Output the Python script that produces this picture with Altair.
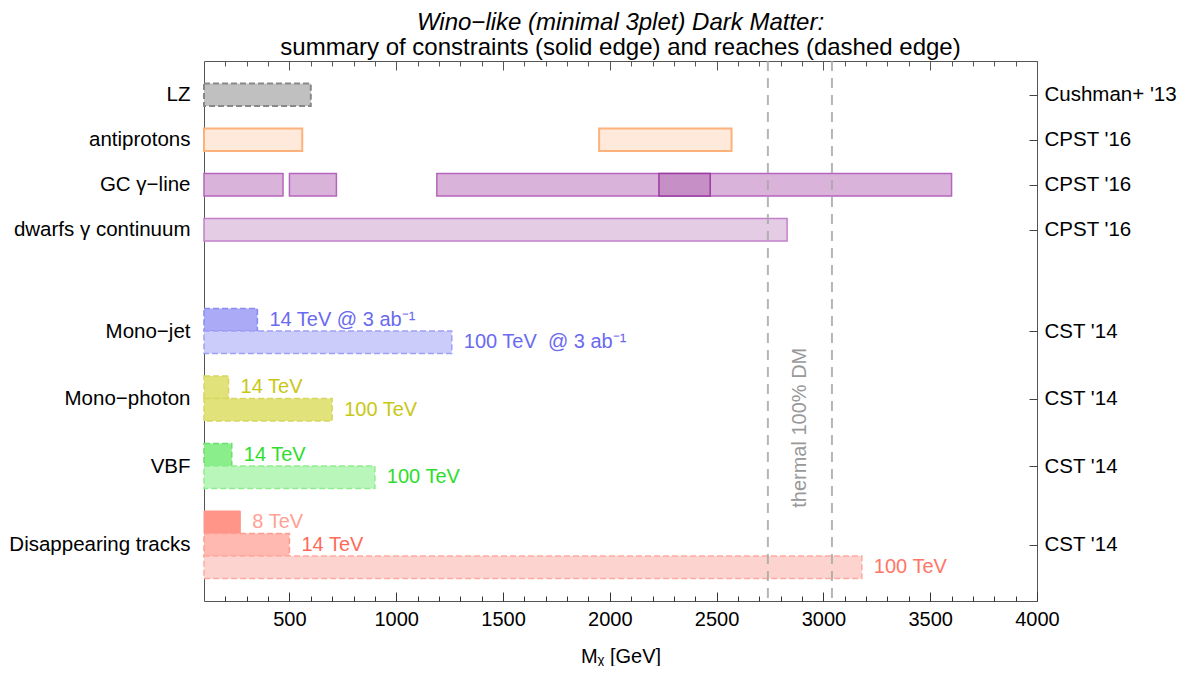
import json
import altair as alt
import pandas as pd

# ---------------- data ----------------
row_labels = ["LZ", "antiprotons", "GC γ−line", "dwarfs γ continuum",
              "Mono−jet", "Mono−photon", "VBF", "Disappearing tracks"]
row_refs = ["Cushman+ '13", "CPST '16", "CPST '16", "CPST '16",
            "CST '14", "CST '14", "CST '14", "CST '14"]
row_pos = [1.5, 3.5, 5.5, 7.5, 12, 15, 18, 21.5]

bar_name = ["LZ", "antiprotons a", "antiprotons b", "GC 1", "GC 2", "GC 3", "GC core",
            "dwarfs", "MJ 14", "MJ 100", "MP 14", "MP 100", "VBF 14", "VBF 100",
            "DT 8", "DT 14", "DT 100"]
bar_lo = [100, 100, 1950, 100, 500, 1190, 2230, 100, 100, 100, 100, 100, 100, 100, 100, 100, 100]
bar_hi = [600, 560, 2570, 470, 720, 3600, 2470, 2830, 350, 1260, 215, 700, 230, 900, 270, 500, 3180]
bar_y0 = [1, 3, 3, 5, 5, 5, 5, 7, 11, 12, 14, 15, 17, 18, 20, 21, 22]
bar_y1 = [2, 4, 4, 6, 6, 6, 6, 8, 12, 13, 15, 16, 18, 19, 21, 22, 23]
bar_dashed = [True, False, False, False, False, False, False, False,
              True, True, True, True, True, True, False, True, True]

# styles
bar_fill = ["#c0c0c0", "#ffe9da", "#ffe9da", "#dab3db", "#dab3db", "#dab3db", "#c690c7",
            "#e4cde4", "#aaaaf7", "#ccccfb", "#e2e27a", "#e2e27a", "#8aee8a", "#b9f6b9",
            "#ff9488", "#ffb9b0", "#fdd3cf"]
bar_edge = ["#888888", "#fdb27b", "#fdb27b", "#b565bd", "#b565bd", "#b565bd", "#9b3ba4",
            "#c47fcb", "#8a8af3", "#a0a0f5", "#d6d662", "#d6d662", "#6ce06c", "#8eee8e",
            "#ff9488", "#ff9d92", "#ffa9a0"]
bar_sw = [2, 2, 2, 1.5, 1.5, 1.5, 1.5, 1.5, 1.5, 1.5, 1.5, 1.5, 1.5, 1.5, 1, 1.5, 1.5]

text_str = ["14 TeV @ 3 ab⁻¹", "100 TeV\u00a0\u00a0@ 3 ab⁻¹", "14 TeV", "100 TeV", "14 TeV", "100 TeV",
            "8 TeV", "14 TeV", "100 TeV"]
text_x = [350, 1260, 215, 700, 230, 900, 270, 500, 3180]
text_y = [11.5, 12.5, 14.5, 15.5, 17.5, 18.5, 20.5, 21.5, 22.5]
text_color = ["#6a6af0", "#6a6af0", "#c8c814", "#c8c814", "#2edd2e", "#2edd2e",
              "#ffa096", "#ff6a5a", "#ff7566"]

thermal = [2740, 3040]
thermal_label = "thermal 100% DM"
thermal_label_y = [16.3]

x_major = [500, 1000, 1500, 2000, 2500, 3000, 3500, 4000]
x_minor = [v for v in range(200, 4000, 100) if v % 500 != 0]
x_domain = [100, 4000]
y_domain = [0, 24]

FONT = "Liberation Sans"

bars = pd.DataFrame({"name": bar_name, "lo": bar_lo, "hi": bar_hi, "y0": bar_y0, "y1": bar_y1,
                     "dashed": bar_dashed, "fill": bar_fill, "edge": bar_edge, "sw": bar_sw})
texts = pd.DataFrame({"t": text_str, "x": text_x, "y": text_y, "c": text_color})
therm = pd.DataFrame({"x": thermal})
therm_lab = pd.DataFrame({"x": [sum(thermal) / 2], "y": thermal_label_y, "t": [thermal_label]})


def expr_map(vals, labs):
    e = '""'
    for v, l in reversed(list(zip(vals, labs))):
        e = f"datum.value == {v} ? {json.dumps(l)} : ({e})"
    return e


xs = alt.Scale(domain=x_domain, nice=False, zero=False)
ys = alt.Scale(domain=y_domain, reverse=True, nice=False, zero=False)

ax_bottom = alt.Axis(orient="bottom", values=x_major, tickSize=9, offset=-9, domain=False, grid=False,
                     labelFontSize=20, labelPadding=8, labelFlush=False, labelOverlap=False,
                     format="d", tickColor="#333333", labelColor="black",
                     title="Mᵪ [GeV]", titleFontSize=20, titleFontWeight="normal",
                     titleColor="black", titlePadding=17)
ax_top = alt.Axis(orient="top", values=x_major, tickSize=9, offset=-9, domain=False, grid=False,
                  labels=False, tickColor="#555555", title=None)
ax_bottom_minor = alt.Axis(orient="bottom", values=x_minor, tickSize=5, offset=-5, domain=False,
                           grid=False, labels=False, tickColor="#333333", title=None)
ax_top_minor = alt.Axis(orient="top", values=x_minor, tickSize=5, offset=-5, domain=False,
                        grid=False, labels=False, tickColor="#555555", title=None)

ax_left = alt.Axis(orient="left", values=row_pos, labelExpr=expr_map(row_pos, row_labels),
                   tickSize=8, offset=-8, domain=False, grid=False, labelFontSize=20.5,
                   labelPadding=14, labelOverlap=False, labelFlush=False, labelLimit=400,
                   tickColor="black", labelColor="black", title=None)
ax_right = alt.Axis(orient="right", values=row_pos, labelExpr=expr_map(row_pos, row_refs),
                    tickSize=8, offset=-8, domain=False, grid=False, labelFontSize=20.5,
                    labelPadding=7, labelOverlap=False, labelFlush=False, labelLimit=400,
                    tickColor="#444444", labelColor="black", title=None)

base_bars = alt.Chart(bars)

solid = base_bars.transform_filter("!datum.dashed").mark_rect().encode(
    x=alt.X("lo:Q", scale=xs, axis=ax_bottom),
    x2="hi:Q",
    y=alt.Y("y0:Q", scale=ys, axis=ax_left),
    y2="y1:Q",
    fill=alt.Fill("fill:N", scale=None),
    stroke=alt.Stroke("edge:N", scale=None),
    strokeWidth=alt.StrokeWidth("sw:Q", scale=None),
)

dashed = base_bars.transform_filter("datum.dashed").mark_rect(strokeDash=[6, 3]).encode(
    x=alt.X("lo:Q", scale=xs, axis=ax_top),
    x2="hi:Q",
    y=alt.Y("y0:Q", scale=ys, axis=ax_right),
    y2="y1:Q",
    fill=alt.Fill("fill:N", scale=None),
    stroke=alt.Stroke("edge:N", scale=None),
    strokeWidth=alt.StrokeWidth("sw:Q", scale=None),
)

rules = alt.Chart(therm).mark_rule(color="#a8a8a8", strokeWidth=2, strokeDash=[10, 7], opacity=0.85).encode(
    x=alt.X("x:Q", scale=xs, axis=ax_bottom_minor),
)

labels = alt.Chart(texts).mark_text(align="left", baseline="middle", dx=12, fontSize=20, font=FONT).encode(
    x=alt.X("x:Q", scale=xs, axis=ax_top_minor),
    y=alt.Y("y:Q", scale=ys, axis=None),
    text="t:N",
    color=alt.Color("c:N", scale=None),
)

therm_text = alt.Chart(therm_lab).mark_text(angle=270, align="center", baseline="middle",
                                            fontSize=20, font=FONT, color="#999999").encode(
    x=alt.X("x:Q", scale=xs, axis=None),
    y=alt.Y("y:Q", scale=ys, axis=None),
    text="t:N",
)

chart = alt.layer(solid, dashed, rules, labels, therm_text).resolve_axis(
    x="independent", y="independent"
).properties(
    width=833,
    height=540,
    padding={"top": 3, "left": 0, "right": 5, "bottom": 0},
    title=alt.TitleParams(
        text="Wino−like (minimal 3plet) Dark Matter:",
        subtitle="summary of constraints (solid edge) and reaches (dashed edge)",
        fontSize=24, fontStyle="italic", fontWeight="normal", color="black",
        subtitleFontSize=24, subtitleColor="black", subtitlePadding=1,
        anchor="middle", frame="group", offset=0, font=FONT, subtitleFont=FONT,
    ),
).configure(font=FONT).configure_view(stroke="#555555", strokeWidth=1)

chart.save("out.html", embed_options={"renderer": "svg", "actions": False})
